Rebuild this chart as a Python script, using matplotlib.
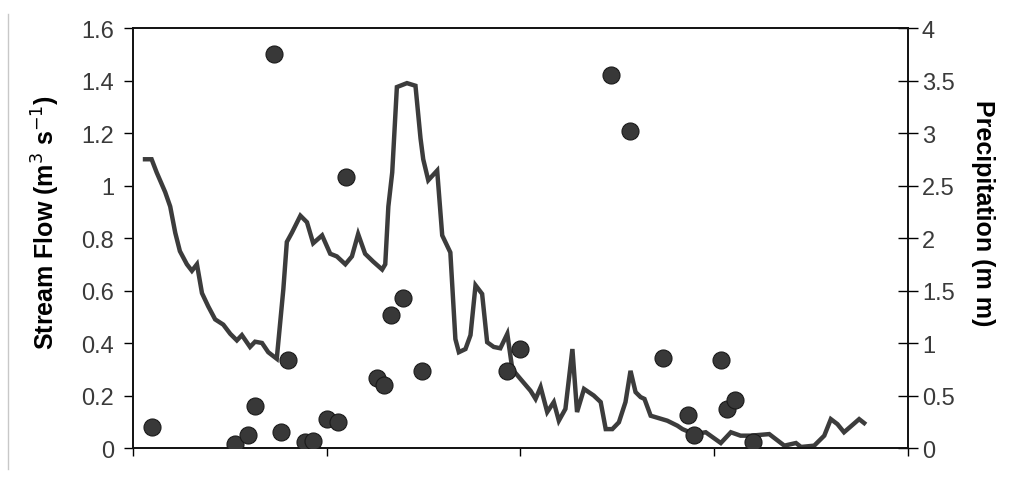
import matplotlib
matplotlib.use("Agg")
import matplotlib.pyplot as plt
from matplotlib.lines import Line2D

plt.rcParams["font.family"] = ["Liberation Sans", "DejaVu Sans"]

# stream flow (m3 s-1), x = day index
flow_day = [3.1, 4.8, 6.1, 8.3, 9.6, 10.9, 12.1, 13.9, 15.2, 16.5, 17.8, 19.4, 21.2, 23.3,
            25.1, 26.8, 28.1, 30.2, 31.5, 33.3, 34.9, 37.1, 38.8, 39.7, 41.0, 43.2, 44.9,
            46.5, 48.8, 50.9, 52.6, 54.8, 56.5, 58.1, 59.9, 62.0, 64.3, 65.1, 65.9, 66.9,
            68.1, 70.7, 72.9, 74.2, 74.9, 76.2, 78.5, 79.8, 81.9, 83.2, 84.1, 85.8, 87.1,
            88.4, 90.1, 91.4, 93.1, 94.8, 96.6, 97.9, 100.0, 102.6, 103.9, 105.2, 106.9,
            108.6, 109.9, 111.6, 113.4, 114.6, 116.4, 118.9, 120.7, 122.0, 123.7, 125.4,
            127.1, 128.4, 129.7, 131.0, 132.0, 133.6, 137.9, 140.5, 141.8, 144.8, 147.8,
            151.7, 154.3, 156.8, 159.4, 164.2, 168.1, 171.1, 172.4, 175.8, 178.4, 180.1,
            181.8, 183.5, 185.3, 187.4, 188.7]
flow = [1.10, 1.10, 1.05, 0.975, 0.92, 0.82, 0.75, 0.70, 0.675, 0.70, 0.59, 0.54, 0.49, 0.47,
        0.435, 0.41, 0.43, 0.385, 0.405, 0.40, 0.365, 0.34, 0.605, 0.785, 0.82, 0.885, 0.86,
        0.78, 0.81, 0.74, 0.73, 0.70, 0.73, 0.815, 0.74, 0.71, 0.68, 0.70, 0.92, 1.05,
        1.375, 1.39, 1.38, 1.18, 1.10, 1.02, 1.057, 0.81, 0.745, 0.415, 0.365, 0.377, 0.43,
        0.62, 0.587, 0.403, 0.385, 0.38, 0.435, 0.30, 0.263, 0.218, 0.187, 0.232, 0.137,
        0.175, 0.104, 0.149, 0.377, 0.137, 0.225, 0.20, 0.175, 0.072, 0.072, 0.098,
        0.175, 0.294, 0.213, 0.194, 0.187, 0.123, 0.104, 0.085, 0.072, 0.053, 0.06,
        0.019, 0.06, 0.047, 0.047, 0.053, 0.009, 0.019, 0.004, 0.009, 0.047, 0.11,
        0.091, 0.06, 0.083, 0.11, 0.095]

# precipitation (mm)
rain_day = [4.9, 26.4, 29.7, 31.5, 36.4, 38.2, 40.1, 44.4, 46.5, 50.1, 53.0, 55.0, 63.0,
            64.9, 66.7, 69.8, 74.7, 96.6, 100.0, 123.3, 128.2, 136.7, 143.3, 144.8, 151.7,
            153.4, 155.3, 160.0]
rain = [0.2, 0.04, 0.12, 0.40, 3.75, 0.155, 0.84, 0.055, 0.065, 0.275, 0.245, 2.58, 0.67,
        0.60, 1.27, 1.425, 0.73, 0.73, 0.94, 3.55, 3.02, 0.855, 0.31, 0.12, 0.84,
        0.37, 0.46, 0.06]

flow_ticks = [0, 0.2, 0.4, 0.6, 0.8, 1, 1.2, 1.4, 1.6]
flow_labels = ["0", "0.2", "0.4", "0.6", "0.8", "1", "1.2", "1.4", "1.6"]
rain_ticks = [0, 0.5, 1, 1.5, 2, 2.5, 3, 3.5, 4]
rain_labels = ["0", "0.5", "1", "1.5", "2", "2.5", "3", "3.5", "4"]
day_ticks = [0, 50, 100, 150, 200]

fig = plt.figure(figsize=(10.13, 4.85), dpi=100)
ax = fig.add_axes([0.1313, 0.0742, 0.765, 0.866])
ax2 = ax.twinx()

ax.plot(flow_day, flow, color="#3c3c3c", lw=3.2, solid_joinstyle="miter")
ax2.scatter(rain_day, rain, s=150, color="#383838", edgecolors="#1a1a1a",
            linewidths=0.8, zorder=3)

ax.set_xlim(0, 200)
ax.set_ylim(0, 1.6)
ax2.set_ylim(0, 4)
ax.set_xticks(day_ticks)
ax.set_xticklabels([])
ax.set_yticks(flow_ticks)
ax.set_yticklabels(flow_labels)
ax2.set_yticks(rain_ticks)
ax2.set_yticklabels(rain_labels)

ax.tick_params(axis="y", direction="out", length=6.5, width=1, pad=7,
               labelsize=17, labelcolor="#3a3a3a")
ax.tick_params(axis="x", direction="out", length=6, width=1)
ax2.tick_params(axis="y", direction="inout", length=14, width=1, pad=3,
                labelsize=17, labelcolor="#3a3a3a")

for a in (ax, ax2):
    for sp in a.spines.values():
        sp.set_linewidth(1.2)
        sp.set_color("#111111")

ax.set_ylabel("Stream Flow (m$^3$ s$^{-1}$)", fontsize=18, fontweight="bold",
              va="center")
ax.yaxis.set_label_coords(-0.113, 0.54)
ax2.set_ylabel("Precipitation (m m)", fontsize=18, fontweight="bold", rotation=270,
               va="center")
ax2.yaxis.set_label_coords(1.097, 0.562)

fig.add_artist(Line2D([0.008, 0.008], [0.03, 0.97], transform=fig.transFigure,
                      color="#c8c8c8", lw=1))

fig.savefig("out.png", dpi=100)
